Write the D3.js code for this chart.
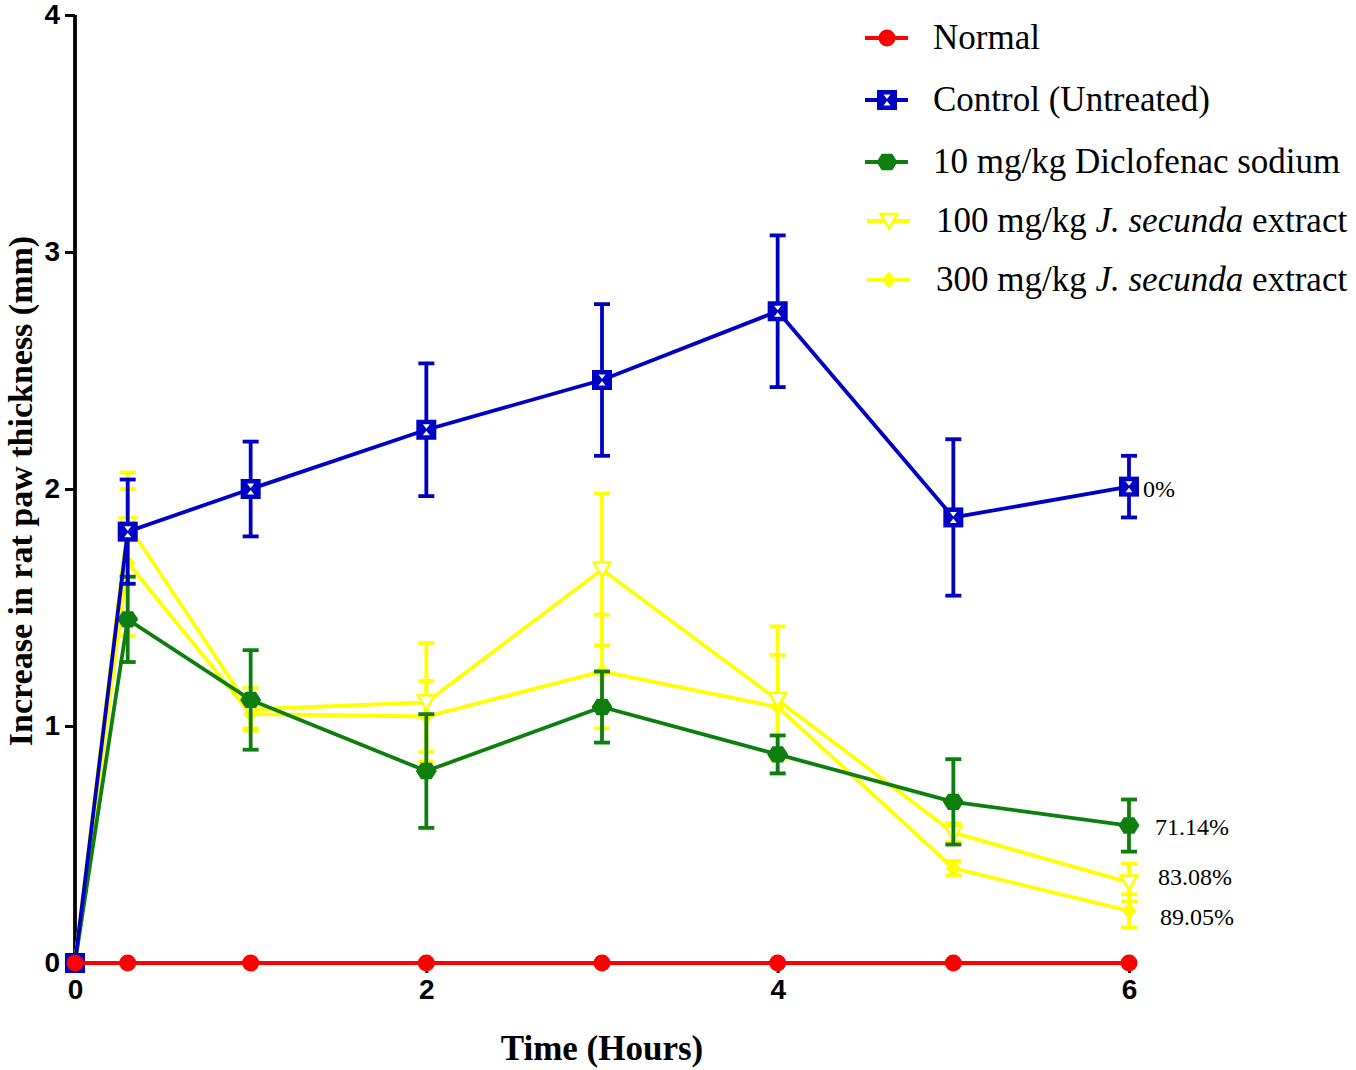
<!DOCTYPE html>
<html>
<head>
<meta charset="utf-8">
<script src="https://cdn.jsdelivr.net/npm/d3@7"></script>
<style>
  body { margin: 0; background: #fff; }
  svg { display: block; }
</style>
</head>
<body>
<svg id="chart" width="1356" height="1070"></svg>
<script>
// ---- data ----
const times = [0, 0.3, 1, 2, 3, 4, 5, 6];
const xTicks = [0, 2, 4, 6];
const yTicks = [0, 1, 2, 3, 4];

const normalMean = [0, 0, 0, 0, 0, 0, 0, 0];
const normalErr  = [0, 0, 0, 0, 0, 0, 0, 0];
const controlMean = [0, 1.82, 2.00, 2.25, 2.46, 2.75, 1.88, 2.01];
const controlErr  = [0, 0.22, 0.20, 0.28, 0.32, 0.32, 0.33, 0.13];
const diclofenacMean = [0, 1.45, 1.11, 0.81, 1.08, 0.88, 0.68, 0.58];
const diclofenacErr  = [0, 0.18, 0.21, 0.24, 0.15, 0.08, 0.18, 0.11];
const js100Mean = [0, 1.85, 1.07, 1.10, 1.66, 1.11, 0.55, 0.34];
const js100Err  = [0, 0.22, 0.09, 0.25, 0.32, 0.31, 0.04, 0.08];
const js300Mean = [0, 1.69, 1.05, 1.04, 1.23, 1.08, 0.40, 0.22];
const js300Err  = [0, 0.31, 0.06, 0.15, 0.24, 0.22, 0.03, 0.07];

const seriesNames = ["Normal", "Control (Untreated)", "10 mg/kg Diclofenac sodium",
                     "100 mg/kg J. secunda extract", "300 mg/kg J. secunda extract"];
const endLabels = ["", "0%", "71.14%", "83.08%", "89.05%"];

// ---- build ----
const series = [
  {name: seriesNames[0], mean: normalMean, err: normalErr, color: "#ff0000", marker: "circle", label: endLabels[0]},
  {name: seriesNames[1], mean: controlMean, err: controlErr, color: "#0000c4", marker: "square", label: endLabels[1]},
  {name: seriesNames[2], mean: diclofenacMean, err: diclofenacErr, color: "#0e7e0e", marker: "hexagon", label: endLabels[2]},
  {name: seriesNames[3], mean: js100Mean, err: js100Err, color: "#ffff00", marker: "triangle", label: endLabels[3]},
  {name: seriesNames[4], mean: js300Mean, err: js300Err, color: "#ffff00", marker: "diamond", label: endLabels[4]}
];

const svg = d3.select("#chart");
const x = d3.scaleLinear().domain([0, 6]).range([75, 1129]);
const y = d3.scaleLinear().domain([0, 4]).range([963, 15]);

const LW = 3.8;

function markerPath(type) {
  switch (type) {
    case "hexagon": {
      const r = 10.5, pts = [];
      for (let i = 0; i < 6; i++) {
        const a = Math.PI / 3 * i;
        pts.push([r * Math.cos(a), r * Math.sin(a) * 0.9]);
      }
      return "M" + pts.map(p => p.join(",")).join("L") + "Z";
    }
    case "triangle":
      return "M-8.5,-7L8.5,-7L0,7.5Z";
    case "diamond":
      return "M0,-8.5L7.5,0L0,8.5L-7.5,0Z";
  }
}

function drawMarker(g, type, color) {
  if (type === "circle") {
    g.append("circle").attr("r", 8.5).attr("fill", color);
  } else if (type === "square") {
    g.append("rect").attr("x", -10).attr("y", -10).attr("width", 20).attr("height", 20).attr("fill", color);
    g.append("path").attr("d", "M-3.5,-5.5L3.5,-5.5L0,-1Z").attr("fill", "#fff");
    g.append("path").attr("d", "M-3.5,5.5L3.5,5.5L0,1Z").attr("fill", "#fff");
  } else if (type === "triangle") {
    g.append("path").attr("d", markerPath(type)).attr("fill", "#fff").attr("stroke", color).attr("stroke-width", 2.5);
  } else {
    g.append("path").attr("d", markerPath(type)).attr("fill", color);
  }
}

// axes
const yAxis = d3.axisLeft(y).tickValues(yTicks).tickFormat(d3.format("d")).tickSize(10).tickPadding(5);
const gy = svg.append("g").attr("transform", "translate(75,0)").call(yAxis);
gy.select(".domain").attr("stroke", "#000").attr("stroke-width", 3.8).attr("d", `M0,${y(4)}V${y(0)}`);
gy.selectAll(".tick line").attr("stroke", "#000").attr("stroke-width", 3);
gy.selectAll(".tick text").attr("font-family", "Liberation Sans, Arial, sans-serif")
  .attr("font-weight", "bold").attr("font-size", 28).attr("fill", "#000");

const xAxis = d3.axisBottom(x).tickValues(xTicks).tickFormat(d3.format("d")).tickSize(10).tickPadding(6);
const gx = svg.append("g").attr("transform", `translate(0,${y(0)})`).call(xAxis);
gx.select(".domain").attr("stroke", "#000").attr("stroke-width", 3.8).attr("d", `M${x(0)},0H${x(6)}`);
gx.selectAll(".tick line").attr("stroke", "#000").attr("stroke-width", 3);
gx.selectAll(".tick text").attr("font-family", "Liberation Sans, Arial, sans-serif")
  .attr("font-weight", "bold").attr("font-size", 28).attr("fill", "#000");

// axis titles
svg.append("text").attr("x", 602).attr("y", 1060).attr("text-anchor", "middle")
  .attr("font-family", "Liberation Serif, Times New Roman, serif").attr("font-weight", "bold")
  .attr("font-size", 35).text("Time (Hours)");
svg.append("text").attr("transform", "translate(32,491) rotate(-90)").attr("text-anchor", "middle")
  .attr("font-family", "Liberation Serif, Times New Roman, serif").attr("font-weight", "bold")
  .attr("font-size", 34).text("Increase in rat paw thickness (mm)");

// draw order: yellow, green, blue, red
const order = [4, 3, 2, 1, 0];
const line = d3.line().x(d => x(d.t)).y(d => y(d.v));
order.forEach(i => {
  const s = series[i];
  const pts = times.map((t, k) => ({t, v: s.mean[k], e: s.err[k]}));
  const g = svg.append("g");
  // error bars
  pts.filter(p => p.e > 0).forEach(p => {
    const eb = g.append("g").attr("stroke", s.color).attr("stroke-width", LW);
    eb.append("line").attr("x1", x(p.t)).attr("x2", x(p.t)).attr("y1", y(p.v + p.e)).attr("y2", y(p.v - p.e));
    eb.append("line").attr("x1", x(p.t) - 8).attr("x2", x(p.t) + 8).attr("y1", y(p.v + p.e)).attr("y2", y(p.v + p.e));
    eb.append("line").attr("x1", x(p.t) - 8).attr("x2", x(p.t) + 8).attr("y1", y(p.v - p.e)).attr("y2", y(p.v - p.e));
  });
  g.append("path").datum(pts).attr("d", line).attr("fill", "none")
    .attr("stroke", s.color).attr("stroke-width", LW);
  pts.forEach(p => {
    const m = g.append("g").attr("transform", `translate(${x(p.t)},${y(p.v)})`);
    drawMarker(m, s.marker, s.color);
  });
});

// end labels
const labelX = [null, 1143, 1155, 1158, 1160];
const labelY = [null, 497, 835, 885, 925];
series.forEach((s, i) => {
  if (!s.label) return;
  svg.append("text").attr("x", labelX[i]).attr("y", labelY[i])
    .attr("font-family", "Liberation Serif, Times New Roman, serif").attr("font-size", 24)
    .attr("fill", "#000").text(s.label);
});

// legend
const legY = [38, 100, 162, 221, 280];
const leg = svg.append("g");
series.forEach((s, i) => {
  const lg = leg.append("g").attr("transform", `translate(0,${legY[i]})`);
  const x0 = i >= 3 ? 867 : 865;
  lg.append("line").attr("x1", x0).attr("x2", x0 + 43).attr("y1", 0).attr("y2", 0)
    .attr("stroke", s.color).attr("stroke-width", LW);
  const m = lg.append("g").attr("transform", `translate(${x0 + 22},0)`);
  drawMarker(m, s.marker, s.color);
  const t = lg.append("text").attr("x", i >= 3 ? 936 : 933).attr("y", 11)
    .attr("font-family", "Liberation Serif, Times New Roman, serif").attr("font-size", 35).attr("fill", "#000");
  const parts = s.name.split("J. secunda");
  if (parts.length === 2) {
    t.append("tspan").text(parts[0]);
    t.append("tspan").attr("font-style", "italic").text("J. secunda");
    t.append("tspan").text(parts[1]);
  } else {
    t.text(s.name);
  }
});
</script>
</body>
</html>
